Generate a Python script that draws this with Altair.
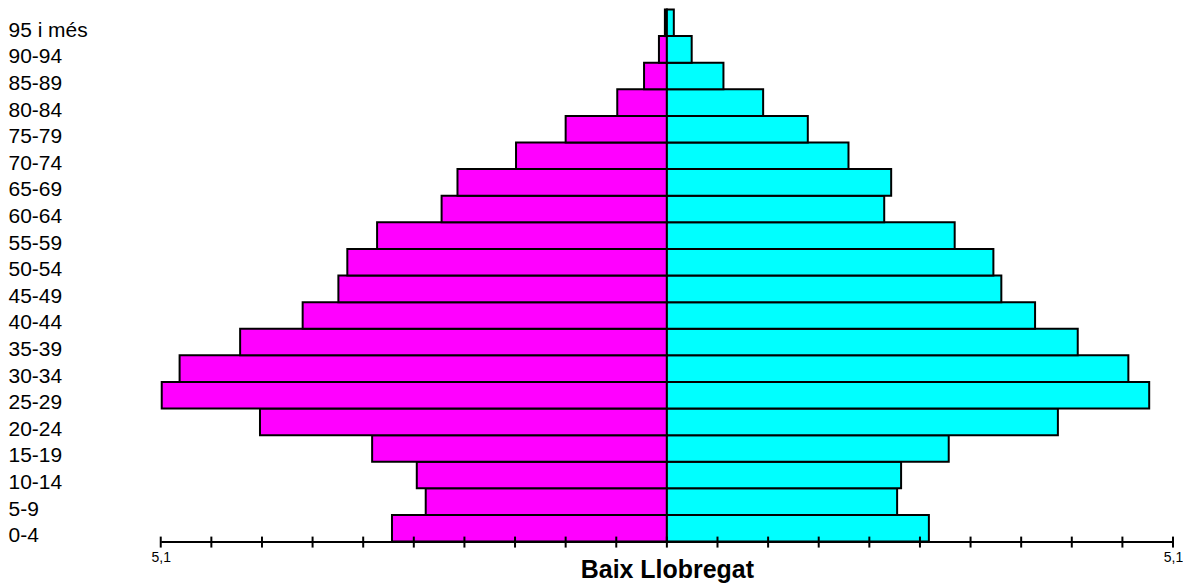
import altair as alt
import pandas as pd

ages = ["0-4", "5-9", "10-14", "15-19", "20-24", "25-29", "30-34", "35-39",
        "40-44", "45-49", "50-54", "55-59", "60-64", "65-69", "70-74", "75-79",
        "80-84", "85-89", "90-94", "95 i més"]
left_vals = [2.77, 2.43, 2.52, 2.97, 4.10, 5.09, 4.91, 4.30, 3.67, 3.31,
             3.22, 2.92, 2.27, 2.11, 1.52, 1.02, 0.50, 0.23, 0.08, 0.02]
right_vals = [2.64, 2.32, 2.36, 2.84, 3.94, 4.86, 4.65, 4.14, 3.71, 3.37,
              3.29, 2.90, 2.19, 2.26, 1.83, 1.42, 0.97, 0.57, 0.25, 0.07]
tick_values = [-5.1, -4.59, -4.08, -3.57, -3.06, -2.55, -2.04, -1.53, -1.02, -0.51, 0.0,
               0.51, 1.02, 1.53, 2.04, 2.55, 3.06, 3.57, 4.08, 4.59, 5.1]

rows = []
for a, l, r in zip(ages, left_vals, right_vals):
    rows.append({"edat": a, "costat": "esquerra", "valor": -l})
    rows.append({"edat": a, "costat": "dreta", "valor": r})
df = pd.DataFrame(rows)
tick_df = pd.DataFrame({"t": tick_values})

W = 1014
H = 533
FONT = "Liberation Sans"
x_scale = alt.Scale(domain=[-5.1, 5.1], nice=False, zero=False)
x_axis = alt.Axis(values=tick_values,
                  labelExpr="abs(datum.value) > 5 ? '5,1' : ''",
                  ticks=False, grid=False,
                  domainColor="black", domainWidth=2,
                  labelFontSize=14, labelPadding=9, labelColor="black",
                  labelFont=FONT, labelOverlap=False, labelFlush=False,
                  titleFontSize=25, titleFontWeight="bold", titleColor="black",
                  titleFont=FONT, titleY=36, titleBaseline="alphabetic")

bars = alt.Chart(df).mark_bar(stroke="black", strokeWidth=2, strokeJoin="miter").encode(
    x=alt.X("valor:Q", scale=x_scale, stack=None, axis=x_axis, title="Baix Llobregat"),
    y=alt.Y("edat:N", sort=ages[::-1],
            scale=alt.Scale(paddingInner=0, paddingOuter=0),
            axis=alt.Axis(title=None, labelAlign="left", labelPadding=153,
                          ticks=False, domain=False, labelFontSize=21,
                          labelOffset=8, labelColor="black", labelFont=FONT)),
    color=alt.Color("costat:N",
                    scale=alt.Scale(domain=["esquerra", "dreta"],
                                    range=["#ff00ff", "#00ffff"]),
                    legend=None),
)

tick_marks = alt.Chart(tick_df).mark_rule(color="black", strokeWidth=2).encode(
    x=alt.X("t:Q", scale=x_scale, axis=x_axis, title="Baix Llobregat"),
    y=alt.value(H - 5),
    y2=alt.value(H + 6),
)

chart = alt.layer(bars, tick_marks).properties(
    width=W, height=H, padding=0
).configure_view(stroke=None)

chart.save("out.html", embed_options={"renderer": "svg", "actions": False})
